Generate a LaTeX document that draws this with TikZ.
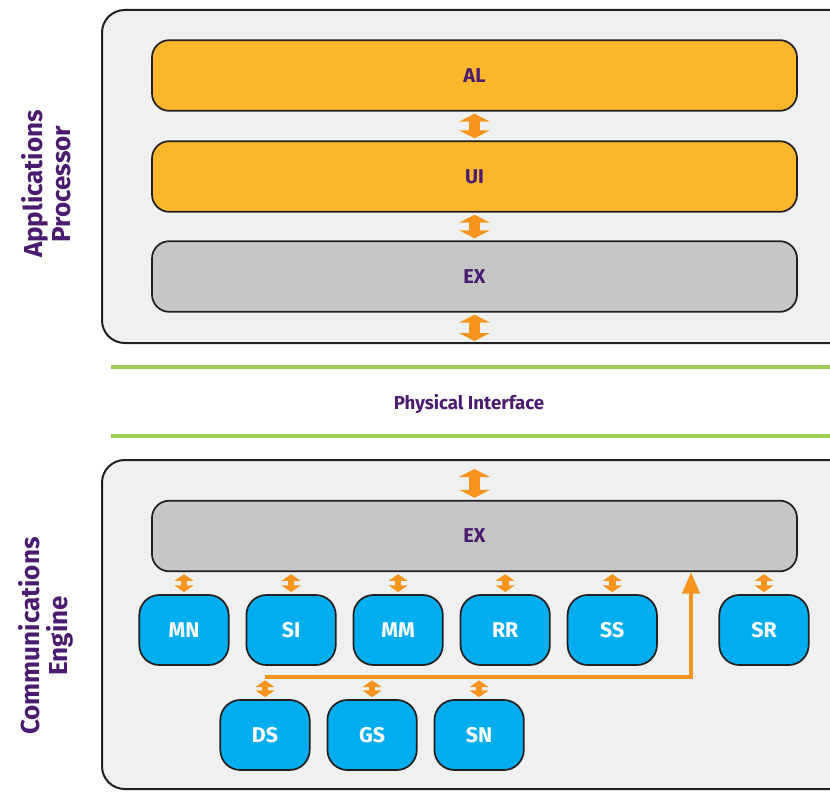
\documentclass[tikz,border=0pt]{standalone}
\usepackage{fontspec}
\setmainfont{Fira Sans}
\usetikzlibrary{positioning}
\usetikzlibrary{arrows.meta}

\definecolor{layerorange}{HTML}{FBB62B}
\definecolor{layergray}{HTML}{C6C6C6}
\definecolor{taskblue}{HTML}{00AEEF}
\definecolor{labelpurple}{HTML}{4B1B6F}
\definecolor{arroworange}{HTML}{F7941D}
\definecolor{linegreen}{HTML}{9DCB56}
\definecolor{panelgray}{HTML}{EFF0F0}
\definecolor{edgeblack}{HTML}{231F20}

\tikzset{
  panel/.style={draw=edgeblack, fill=panelgray, line width=1.5pt, rounded corners=17pt},
  layer/.style={draw=edgeblack, line width=1.3pt, rounded corners=13pt,
    minimum width=483.75pt, minimum height=53pt, text=labelpurple,
    font=\bfseries\fontsize{15}{17}\selectfont},
  task/.style={draw=edgeblack, fill=taskblue, line width=1.3pt, rounded corners=15pt,
    minimum width=67pt, minimum height=52.5pt, text=white,
    font=\bfseries\fontsize{16}{18}\selectfont},
  sidelabel/.style={rotate=90, align=center, text=labelpurple,
    font=\bfseries\fontsize{19.5}{21}\selectfont},
  bigarrow/.style={draw=arroworange, line width=8pt,
    {Triangle[width=23pt,length=6pt]}-{Triangle[width=23pt,length=6pt]},
    shorten <=1.5pt, shorten >=1.5pt},
  smallarrow/.style={draw=arroworange, line width=5pt,
    {Triangle[width=14pt,length=5pt]}-{Triangle[width=14pt,length=5pt]},
    shorten <=1.5pt, shorten >=1.5pt},
  busline/.style={draw=arroworange, line width=2.3pt,
    -{Triangle[width=13pt,length=16pt]}},
  greenline/.style={draw=linegreen, line width=3pt}
}

\begin{document}
\begin{tikzpicture}[x=0.75pt, y=-0.75pt]
\useasboundingbox (0,0) rectangle (830,791);
\clip (0,0) rectangle (830,791);

% applications processor
\draw[panel] (102,10) rectangle (860,343);
\node[layer, fill=layerorange] (al) at (474.5,75.5) {AL};
\node[layer, fill=layerorange] (ui) at (474.5,176.5) {UI};
\node[layer, fill=layergray] (ex1) at (474.5,276.5) {EX};
\coordinate (apbot) at (474.5,343);
\draw[bigarrow] (al) -- (ui);
\draw[bigarrow] (ui) -- (ex1);
\draw[bigarrow] (ex1) -- (apbot);
\node[sidelabel] (aplabel) at (46,184) {Applications\\Processor};

% physical interface
\draw[greenline] (111,367) -- (840,367);
\draw[greenline] (111,436) -- (840,436);
\node[text=labelpurple, font=\bfseries\fontsize{14}{16}\selectfont] (phy) at (469,404) {Physical Interface};

% communications engine
\draw[panel] (102,460) rectangle (860,789);
\node[layer, fill=layergray] (ex2) at (474.5,536) {EX};
\coordinate (cetop) at (474.5,467);
\draw[bigarrow] (cetop) -- (ex2);
\node[sidelabel] (celabel) at (46,636) {Communications\\Engine};

\node[task] (mn) at (184,630) {MN};
\node[task, right=12pt of mn] (si) {SI};
\node[task, right=12pt of si] (mm) {MM};
\node[task, right=12pt of mm] (rr) {RR};
\node[task, right=12pt of rr] (ss) {SS};
\node[task] (sr) at (764,630) {SR};
\node[task] (ds) at (265,735) {DS};
\node[task, right=12pt of ds] (gs) {GS};
\node[task, right=12pt of gs] (sn) {SN};

\draw[smallarrow] (ex2.south -| mn.north) -- (mn.north);
\draw[smallarrow] (ex2.south -| si.north) -- (si.north);
\draw[smallarrow] (ex2.south -| mm.north) -- (mm.north);
\draw[smallarrow] (ex2.south -| rr.north) -- (rr.north);
\draw[smallarrow] (ex2.south -| ss.north) -- (ss.north);
\draw[smallarrow] (ex2.south -| sr.north) -- (sr.north);

\coordinate (bus) at (691,677);
\draw[busline] (ds.north |- bus) -- (bus) -- (bus |- ex2.south);
\draw[smallarrow, shorten <=2.5pt] (ds.north |- bus) -- (ds.north);
\draw[smallarrow, shorten <=2.5pt] (gs.north |- bus) -- (gs.north);
\draw[smallarrow, shorten <=2.5pt] (sn.north |- bus) -- (sn.north);
\end{tikzpicture}
\end{document}
